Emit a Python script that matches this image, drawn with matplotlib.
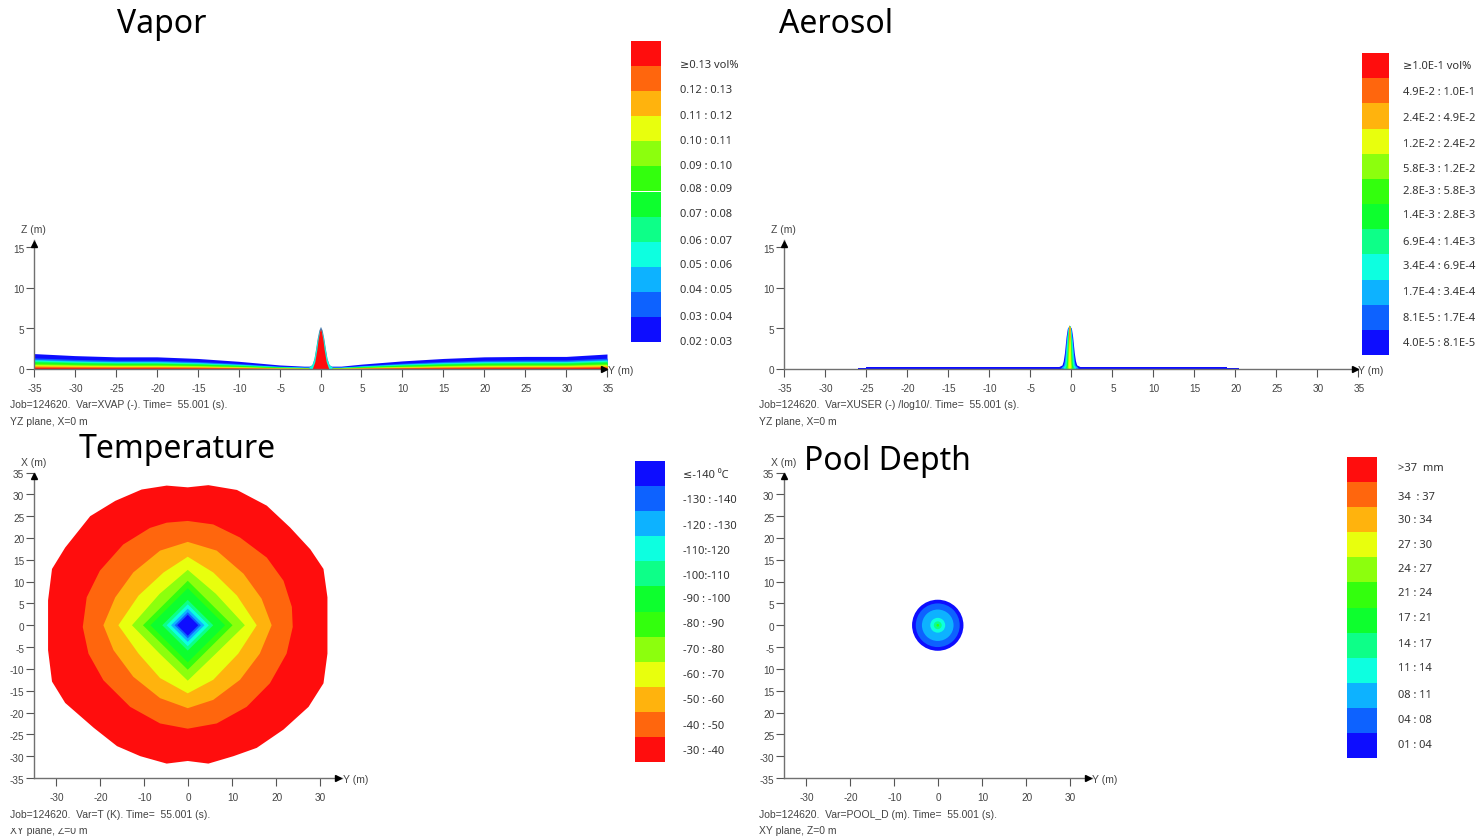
import matplotlib
matplotlib.use('Agg')
import matplotlib.pyplot as plt
from matplotlib.patches import Circle, Rectangle
from matplotlib.transforms import ScaledTranslation

W, H = 1481, 839
plt.rcParams['font.family'] = ['Noto Sans', 'DejaVu Sans']

# colour scale, hot to cold
band_colors = ['#ff0d0d', '#ff660d', '#ffb30d', '#e8ff0d', '#8cff0d', '#33ff0d',
               '#0dff2e', '#0dff88', '#0dffe0', '#0db2ff', '#0d62ff', '#0d0dff']

vapor_labels = ['≥0.13 vol%', '0.12 : 0.13', '0.11 : 0.12', '0.10 : 0.11', '0.09 : 0.10', '0.08 : 0.09',
                '0.07 : 0.08', '0.06 : 0.07', '0.05 : 0.06', '0.04 : 0.05', '0.03 : 0.04', '0.02 : 0.03']
aerosol_labels = ['≥1.0E-1 vol%', '4.9E-2 : 1.0E-1', '2.4E-2 : 4.9E-2', '1.2E-2 : 2.4E-2', '5.8E-3 : 1.2E-2',
                  '2.8E-3 : 5.8E-3', '1.4E-3 : 2.8E-3', '6.9E-4 : 1.4E-3', '3.4E-4 : 6.9E-4', '1.7E-4 : 3.4E-4',
                  '8.1E-5 : 1.7E-4', '4.0E-5 : 8.1E-5']
temp_labels = ['≤-140 ⁰C', '-130 : -140', '-120 : -130', '-110:-120', '-100:-110', '-90 : -100',
               '-80 : -90', '-70 : -80', '-60 : -70', '-50 : -60', '-40 : -50', '-30 : -40']
pool_labels = ['>37  mm', '34  : 37', '30 : 34', '27 : 30', '24 : 27', '21 : 24',
               '17 : 21', '14 : 17', '11 : 14', '08 : 11', '04 : 08', '01 : 04']

vapor_label_px = [64, 89, 115, 140, 165, 188, 213, 240, 264, 289, 316, 341]
aerosol_label_px = [65, 91, 117, 143, 168, 190, 214, 241, 265, 291, 317, 342]
temp_label_px = [474, 499, 525, 550, 575, 598, 623, 649, 674, 699, 725, 750]
pool_label_px = [467, 496, 519, 544, 568, 592, 617, 643, 667, 694, 719, 744]

yz_xticks = [-35, -30, -25, -20, -15, -10, -5, 0, 5, 10, 15, 20, 25, 30, 35]
yz_zticks = [0, 5, 10, 15]
xy_xticks = [-30, -20, -10, 0, 10, 20, 30]
xy_yticks = [35, 30, 25, 20, 15, 10, 5, 0, -5, -10, -15, -20, -25, -30, -35]
temp_ylabels = ['35', '30', '25', '20', '15', '10', '5', '0', '-5', '-10', '-15', '-20', '-25', '-30', '-35']
pool_ylabels = ['35', '30', '25', '20', '15', '10', '5', '0', '-5', '10', '15', '20', '25', '-30', '-35']

# vapor section: top of the cloud along Y and band tops as share of it (red first)
vapor_wing_y = [-35, -30, -25, -20, -15, -10, -5, -2, 2.5, 5, 10, 15, 20, 25, 30, 35]
vapor_wing_top = [1.9, 1.65, 1.5, 1.5, 1.3, 0.95, 0.5, 0.35, 0.35, 0.6, 1.0, 1.3, 1.5, 1.55, 1.55, 1.85]
vapor_share = [0.1, 0.17, 0.22, 0.27, 0.33, 0.4, 0.47, 0.53, 0.58, 0.63, 0.72, 1.0]
vapor_peak_y = [-1.4, -1.05, -0.8, -0.6, -0.4, -0.2, 0, 0.2, 0.4, 0.6, 0.8, 1.05, 1.4]
vapor_peak_top = [0.3, 0.55, 1.3, 2.5, 3.8, 4.8, 5.25, 4.8, 3.8, 2.5, 1.3, 0.55, 0.3]
vapor_red_y = [-1.0, -0.7, -0.45, -0.3, -0.12, 0, 0.12, 0.3, 0.45, 0.7, 1.0]
vapor_red_top = [0.05, 0.9, 2.4, 3.6, 4.6, 4.95, 4.6, 3.6, 2.4, 0.9, 0.05]

# aerosol section
aero_wing_y = [-26, -25, -25, -17, -17, 12, 12, 19, 19, 20.5]
aero_wing_top = [0.12, 0.12, 0.2, 0.2, 0.3, 0.3, 0.2, 0.2, 0.12, 0.12]
aero_peak_center = -0.2
aero_peak_z = [0.1, 0.5, 1, 2, 3, 4, 5, 5.4]
aero_blue_w = [1.7, 0.9, 0.75, 0.6, 0.5, 0.4, 0.25, 0]
aero_sky_w = [1.1, 0.7, 0.6, 0.5, 0.42, 0.32, 0.2, 0]
aero_cyan_w = [0.8, 0.55, 0.48, 0.4, 0.34, 0.26, 0.15, 0]
aero_spring_w = [0.6, 0.45, 0.4, 0.33, 0.27, 0.2, 0.12, 0]
aero_green_w = [0.45, 0.35, 0.3, 0.25, 0.2, 0.16, 0.1, 0]
aero_lime_w = [0.3, 0.25, 0.22, 0.18, 0.15, 0.13, 0.1, 0]
aero_yellow_w = [0.15, 0.15, 0.13, 0.12, 0.11, 0.1, 0.1, 0]
aero_orange_w = [0, 0, 0, 0, 0.02, 0.07, 0.07, 0]

# temperature contours, (Y, X) in metres
temp_red = [(0, 31.6), (4.7, 32.1), (11.2, 31), (18, 27.4), (23.3, 22.4), (27.9, 17.4), (30.9, 12.9), (31.8, 6.4),
            (31.8, -6.5), (30.9, -13.3), (27.5, -18.7), (21.8, -23.9), (15.7, -28.1), (10.4, -30), (4.7, -31.7),
            (0, -31.1), (-4.8, -31.7), (-10.8, -30), (-16.1, -27.7), (-21.4, -23.5), (-27.9, -17.8), (-30.9, -12.9),
            (-31.8, -5.7), (-31.8, 5.7), (-30.9, 12.9), (-27.9, 17.8), (-22.2, 25), (-16.5, 28.5), (-10.5, 31.1),
            (-4.8, 32)]
temp_orange = [(0, 23.9), (5.8, 23.1), (11.9, 20.1), (18, 15.5), (21.8, 10.2), (23.7, 4.2), (23.9, -0.4), (22.5, -6.5),
               (18.7, -13.3), (13.4, -18.7), (6.6, -22.5), (0, -23.7), (-6.3, -22.5), (-13.1, -18.7), (-19.2, -12.6),
               (-22.6, -6.5), (-23.9, -0.4), (-23, 6.4), (-20, 12.5), (-14.7, 18.5), (-8.6, 22.3), (-4.8, 23.5)]
temp_amber = [(0, 19.1), (6.6, 17.1), (12.7, 11.8), (16.8, 6.1), (19.1, 0), (16.4, -6.5), (11.9, -12.5), (5.8, -17.1),
              (0, -19), (-6.3, -16.7), (-12.4, -11.8), (-16.9, -5.7), (-19.2, 0), (-16.5, 6.4), (-12.4, 12.1),
              (-6.3, 17.1)]
temp_yellow = [(0, 15.7), (5.8, 12.1), (11.2, 6.8), (15.7, 0), (11.5, -6.5), (5.8, -12.5), (0, -15.6), (-6.3, -12.1),
               (-11.2, -6.5), (-15.8, 0), (-11.2, 6.8), (-5.5, 12.1)]
temp_lime = [(0, 12.7), (6.4, 7.2), (13, 0), (6.4, -6.5), (0, -12.7), (-6.4, -6.5), (-12.7, 0), (-6.4, 7.2)]
temp_diamond_r = [10.2, 8.5, 5.8, 4.8, 3.8, 3.0, 2.4]

# pool depth rings, radius in metres, outer first (blue to green)
pool_radii = [5.85, 5.0, 3.6, 1.7, 0.9, 0.3]
pool_colors = ['#0d0dff', '#0d62ff', '#0db2ff', '#0dffe0', '#0dff88', '#33ff0d']

fig = plt.figure(figsize=(W / 100, H / 100), dpi=100, facecolor='white')


def px_shift(dx, dy):
    return ScaledTranslation(dx / 100, -dy / 100, fig.dpi_scale_trans)


def make_axes(left, top, right, bottom, xlim, ylim, xticks, yticks, ylabels):
    ax = fig.add_axes([left / W, 1 - bottom / H, (right - left) / W, (bottom - top) / H])
    ax.set_xlim(*xlim)
    ax.set_ylim(*ylim)
    ax.spines['top'].set_visible(False)
    ax.spines['right'].set_visible(False)
    for s in ['left', 'bottom']:
        ax.spines[s].set_color('#707070')
        ax.spines[s].set_linewidth(1.0)
    ax.set_xticks(xticks)
    ax.set_xticklabels([str(t) for t in xticks])
    ax.set_yticks(yticks)
    ax.set_yticklabels(ylabels)
    ax.tick_params(axis='x', length=5.5, width=0.8, color='#555555', pad=5, labelsize=7.2, labelcolor='#444444')
    ax.tick_params(axis='y', length=5.5, width=0.8, color='#555555', pad=1.5, labelsize=7.2, labelcolor='#444444')
    for t in ax.get_xticklabels():
        t.set_family('Liberation Sans')
        t.set_transform(t.get_transform() + px_shift(1, 0))
    for t in ax.get_yticklabels():
        t.set_family('Liberation Sans')
        t.set_transform(t.get_transform() + px_shift(0, 1.5))
    # axis arrows, tips at the axis ends
    ax.plot(1, 0, '>', color='black', ms=5, transform=ax.transAxes + px_shift(-3.5, 0), clip_on=False, zorder=5)
    ax.plot(0, 1, '^', color='black', ms=5, transform=ax.transAxes + px_shift(0, 3.5), clip_on=False, zorder=5)
    return ax


# Vapor
ax1 = make_axes(34, 240, 607, 369, (-35, 35), (0, 15.9), yz_xticks, yz_zticks, [str(t) for t in yz_zticks])
for share, color in reversed(list(zip(vapor_share, band_colors))):
    ax1.fill_between(vapor_wing_y, 0, [t * share for t in vapor_wing_top], color=color, lw=0)
ax1.fill_between(vapor_peak_y, 0, vapor_peak_top, color='#4a7fb0', lw=0)
ax1.fill_between(vapor_peak_y, 0, [t * 0.93 for t in vapor_peak_top], color='#0dffe0', lw=0)
ax1.fill_between(vapor_red_y, 0, vapor_red_top, color=band_colors[0], lw=0)

# Aerosol
ax2 = make_axes(784, 240, 1358, 369, (-35, 35), (0, 15.9), yz_xticks, yz_zticks, [str(t) for t in yz_zticks])
ax2.fill_between(aero_wing_y, 0, aero_wing_top, color=band_colors[11], lw=0)
aero_layers = [(aero_blue_w, band_colors[11]), (aero_sky_w, band_colors[9]), (aero_cyan_w, band_colors[8]),
               (aero_spring_w, band_colors[7]), (aero_green_w, band_colors[6]), (aero_lime_w, band_colors[4]),
               (aero_yellow_w, band_colors[3]), (aero_orange_w, band_colors[1])]
for widths, color in aero_layers:
    ax2.fill_betweenx(aero_peak_z, [aero_peak_center - w for w in widths], [aero_peak_center + w for w in widths],
                      color=color, lw=0)

# Temperature
ax3 = make_axes(34, 472.5, 341.5, 778, (-35, 35), (-35, 35), xy_xticks, xy_yticks, temp_ylabels)
contours = [temp_red, temp_orange, temp_amber, temp_yellow, temp_lime]
for pts, color in zip(contours, band_colors):
    ax3.fill([p[0] for p in pts], [p[1] for p in pts], color=color, lw=0)
for r, color in zip(temp_diamond_r, band_colors[5:]):
    ax3.fill([0, r, 0, -r], [r, 0, -r, 0], color=color, lw=0)

# Pool depth
ax4 = make_axes(784, 472.5, 1091.5, 778, (-35, 35), (-35, 35), xy_xticks, xy_yticks, pool_ylabels)
for r, color in zip(pool_radii, pool_colors):
    ax4.add_patch(Circle((0, 0), r, color=color, lw=0))

# overlay in pixel coordinates for legends and loose text
ov = fig.add_axes([0, 0, 1, 1], zorder=10)
ov.set_xlim(0, W)
ov.set_ylim(H, 0)
ov.axis('off')


def legend(x0, x1, y0, y1, colors, labels, label_x, label_px):
    h = (y1 - y0) / len(colors)
    for i, c in enumerate(colors):
        ov.add_patch(Rectangle((x0, y0 + i * h), x1 - x0, h, color=c, lw=0))
    for lab, y in zip(labels, label_px):
        ov.text(label_x, y + 1.5, lab, fontsize=8, color='#333333', va='center', ha='left')


legend(631, 661, 41, 342, band_colors, vapor_labels, 680, vapor_label_px)
legend(1362, 1389, 53, 355, band_colors, aerosol_labels, 1403, aerosol_label_px)
legend(635, 665, 461, 762, band_colors[::-1], temp_labels, 683, temp_label_px)
legend(1347, 1377, 457, 758, band_colors, pool_labels, 1398, pool_label_px)

for x, y, s in [(117, 24.5, 'Vapor'), (779, 24.5, 'Aerosol'), (79, 449.5, 'Temperature'), (804, 461.5, 'Pool Depth')]:
    ov.text(x, y, s, fontsize=23, color='black', va='center', ha='left')

small = dict(fontsize=7.5, color='#444444', va='center', ha='left', family='Liberation Sans')
for x, y, s in [(21, 230, 'Z (m)'), (608, 371, 'Y (m)'), (771, 230, 'Z (m)'), (1358, 371, 'Y (m)'),
                (21, 463, 'X (m)'), (343, 780, 'Y (m)'), (771, 463, 'X (m)'), (1092, 780, 'Y (m)')]:
    ov.text(x, y, s, **small)

for x, y, s in [(10, 405, 'Job=124620.  Var=XVAP (-). Time=  55.001 (s).'),
                (10, 422, 'YZ plane, X=0 m'),
                (759, 405, 'Job=124620.  Var=XUSER (-) /log10/. Time=  55.001 (s).'),
                (759, 422, 'YZ plane, X=0 m'),
                (10, 815, 'Job=124620.  Var=T (K). Time=  55.001 (s).'),
                (10, 831, 'XY plane, Z=0 m'),
                (759, 815, 'Job=124620.  Var=POOL_D (m). Time=  55.001 (s).'),
                (759, 831, 'XY plane, Z=0 m')]:
    ov.text(x, y, s, **small)

# the lower left caption is cut along its top in the source
ov.add_patch(Rectangle((0, 821), 120, 7, color='white', lw=0, zorder=20))

fig.savefig('out.png', dpi=100)
